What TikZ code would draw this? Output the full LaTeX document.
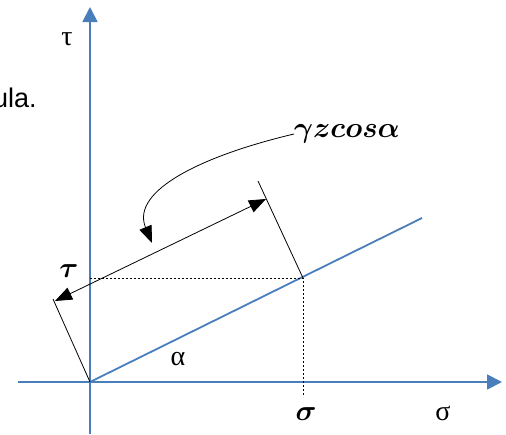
\RequirePackage{fix-cm}
\documentclass[tikz,border=0pt]{standalone}
\usepackage{fontspec}
\usepackage{bm}
\usetikzlibrary{arrows.meta}
\newfontfamily\sansf{Liberation Sans}
\newfontfamily\serf{Liberation Serif}
\definecolor{axisblue}{RGB}{74,126,187}
\tikzset{
  axis/.style={draw=axisblue, line width=1.8pt},
  axisarrow/.style={axis, -{Triangle[length=15pt,width=15pt]}},
  thin/.style={draw=black, line width=0.8pt},
  dimarrow/.style={thin, {Triangle[length=17pt,width=13pt]}-{Triangle[length=17pt,width=13pt]}},
  curvearrow/.style={thin, -{Triangle[length=17pt,width=13pt]}},
  guide/.style={draw=black, line width=0.8pt, dash pattern=on 2.2pt off 1.8pt},
  lbl/.style={inner sep=0pt, font=\serf\fontsize{28}{32}\selectfont},
  blbl/.style={inner sep=0pt, font=\fontsize{29}{34}\selectfont}
}
\begin{document}
\begin{tikzpicture}[x=1pt,y=-1pt]
\useasboundingbox (0,0) rectangle (506,434);
% axes
\coordinate (O) at (90,382);
\coordinate (ybot) at (90,434);
\coordinate (ytop) at (90,7);
\coordinate (xleft) at (18,382);
\coordinate (xright) at (502,382);
\draw[axisarrow] (ybot) -- (ytop);
\draw[axisarrow] (xleft) -- (xright);
% inclined line
\coordinate (P) at (303,278);
\coordinate (Lend) at (422,218);
\draw[axis] (O) -- (Lend);
% guides
\coordinate (Ptau) at (90,278);
\coordinate (Psig) at (303,397);
\draw[guide] (Ptau) -- (P) -- (Psig);
% perpendicular extension lines
\coordinate (E1) at (258,181);
\coordinate (E2) at (53,299);
\draw[thin] (P) -- (E1);
\draw[thin] (O) -- (E2);
% dimension arrow
\coordinate (D1) at (55,301);
\coordinate (D2) at (266,199);
\draw[dimarrow] (D1) -- (D2);
% labels
\node[anchor=base west, inner sep=0pt, font=\sansf\fontsize{27}{30}\selectfont] (ula) at (-7,107) {ula.};
\node[lbl] (tauax) at (67,39) {τ};
\node[lbl] (sigax) at (443,413) {σ};
\node[lbl] (alpha) at (178,359) {α};
\node[blbl] (tau) at (69,271) {$\bm{\tau}$};
\node[blbl] (sig) at (306,414) {$\bm{\sigma}$};
\node[blbl, anchor=west] (formula) at (294,134) {$\bm{\gamma z c o s \alpha}$};
% curved arrow
\draw[curvearrow] (formula.west) .. controls (205,155) and (130,190) .. (152,243);
\end{tikzpicture}
\end{document}
